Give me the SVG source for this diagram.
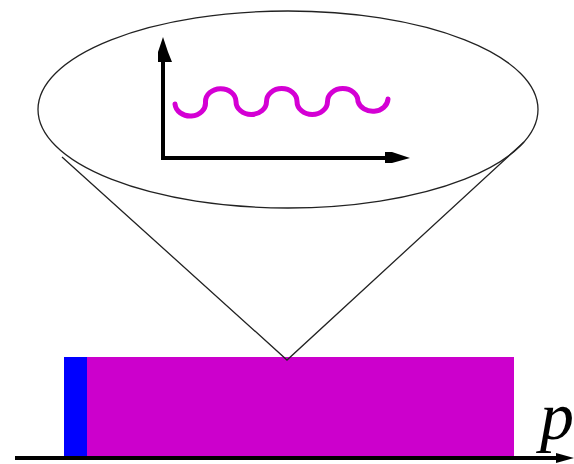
<svg xmlns="http://www.w3.org/2000/svg" width="574" height="464" viewBox="0 0 574 464">
<style>
.thin{fill:none;stroke:#222;stroke-width:1.3}
.axis{fill:none;stroke:#000;stroke-width:4}
.wave{fill:none;stroke:#d400d4;stroke-width:5;stroke-linecap:round}
</style>
<rect width="574" height="464" fill="#fff"/>
<g id="block">
<rect x="64" y="357" width="450" height="100" fill="#cc00cc"/>
<rect x="64" y="357" width="23" height="100" fill="#0000ff"/>
</g>
<g id="cone">
<polyline class="thin" points="62,157 287,360 524,142"/>
</g>
<g id="lens">
<ellipse class="thin" cx="288" cy="109.5" rx="250" ry="98.5" stroke-width="1.5"/>
</g>
<g id="plot">
<path class="axis" d="M163,58 V158 H392"/>
<polygon points="163,37 158,52 158,62 172,62 168,52" fill="#000"/>
<polygon points="410,158 392,152 385,152 385,163 392,163" fill="#000"/>
<path class="wave" d="M175,104 A15.25,13 0 0 0 205.5,102 A15.25,13 0 0 1 236,101.5 A15.25,13 0 0 0 266.5,101.5 A15.25,13 0 0 1 297,101.5 A15.25,13 0 0 0 327.5,101.5 A15.25,13 0 0 1 358,101.5 A15.25,13 0 0 0 388,99"/>
</g>
<g id="baseline">
<line x1="15" y1="458" x2="560" y2="458" stroke="#000" stroke-width="4"/>
<polygon points="574,458 556,453 556,463" fill="#000"/>
<text x="540" y="439" font-family="Liberation Serif, serif" font-style="italic" font-size="68" fill="#000">p</text>
</g>
</svg>
